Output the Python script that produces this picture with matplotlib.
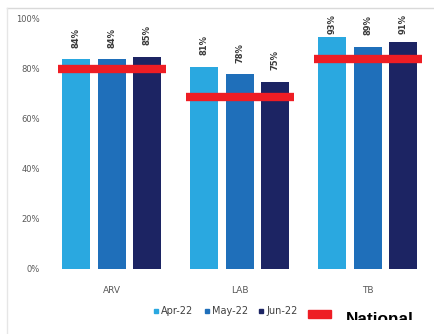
import matplotlib
matplotlib.use("Agg")
import matplotlib.pyplot as plt
import numpy as np
from matplotlib.lines import Line2D
from matplotlib.patches import Rectangle

categories = ["ARV", "LAB", "TB"]
series_names = ["Apr-22", "May-22", "Jun-22"]
apr = [84, 81, 93]
may = [84, 78, 89]
jun = [85, 75, 91]
national = [80, 69, 84]
labels_apr = ["84%", "81%", "93%"]
labels_may = ["84%", "78%", "89%"]
labels_jun = ["85%", "75%", "91%"]
yticks = [0, 20, 40, 60, 80, 100]
ytick_labels = ["0%", "20%", "40%", "60%", "80%", "100%"]

colors = ["#2AA8E0", "#1F6FBA", "#1C2463"]
red = "#EE1D24"

W, H = 434, 334
fig = plt.figure(figsize=(W / 100, H / 100), dpi=100)
fig.patch.set_facecolor("white")

ax = fig.add_axes([48 / W, (H - 269) / H, 384 / W, 250 / H])
x = np.arange(len(categories))
width = 0.22
offsets = [-0.278, 0.0, 0.275]
series = [apr, may, jun]
labels = [labels_apr, labels_may, labels_jun]

for vals, labs, off, c in zip(series, labels, offsets, colors):
    ax.bar(x + off, vals, width=width, color=c, zorder=2)
    for xi, v, lab in zip(x, vals, labs):
        ax.text(xi + off, min(v + 4.5, 94), lab, rotation=90, ha="center",
                va="bottom", fontsize=6, fontweight="bold", color="#3A3A3A",
                clip_on=False)

for xi, n in zip(x, national):
    ax.hlines(n, xi - 0.42, xi + 0.42, color=red, linewidth=6, zorder=3)

ax.set_xlim(-0.5, 2.5)
ax.set_ylim(0, 100)
ax.set_yticks(yticks)
ax.set_yticklabels(ytick_labels, fontsize=6, color="#595959")
ax.set_xticks(x)
ax.set_xticklabels(categories, fontsize=6.5, color="#595959")
ax.tick_params(length=0, pad=6)
ax.tick_params(axis="x", pad=12)
for s in ax.spines.values():
    s.set_visible(False)

# frame lines
fig.add_artist(Line2D([7 / W, 1], [1 - 8 / H, 1 - 8 / H], transform=fig.transFigure,
                      color="#D9D9D9", lw=1))
fig.add_artist(Line2D([7 / W, 7 / W], [0, 1 - 8 / H], transform=fig.transFigure,
                      color="#E6E6E6", lw=1))

handles = [Line2D([], [], marker="s", ls="", color=c, markersize=3.5) for c in colors]
fig.legend(handles, series_names, loc="center", bbox_to_anchor=(225 / W, 1 - 311 / H),
           ncol=3, frameon=False, fontsize=7, handletextpad=0.1, columnspacing=1.0,
           labelcolor="#404040", handlelength=0.8)

fig.add_artist(Rectangle((308 / W, 1 - 318 / H), 23 / W, 8 / H, transform=fig.transFigure,
                         color=red))
t = fig.text(346 / W, 1 - 324.3 / H, "National", fontsize=12.4, fontweight="bold",
             family="Liberation Sans", color="black", va="baseline", ha="left",
             zorder=5)
# the reference cuts the lower part of this word off
cover = Rectangle((340 / W, 0), 94 / W, 14 / H, transform=fig.transFigure,
                  facecolor="white", edgecolor="none", zorder=10)
fig.add_artist(cover)

fig.savefig("out.png", dpi=100, facecolor="white")
